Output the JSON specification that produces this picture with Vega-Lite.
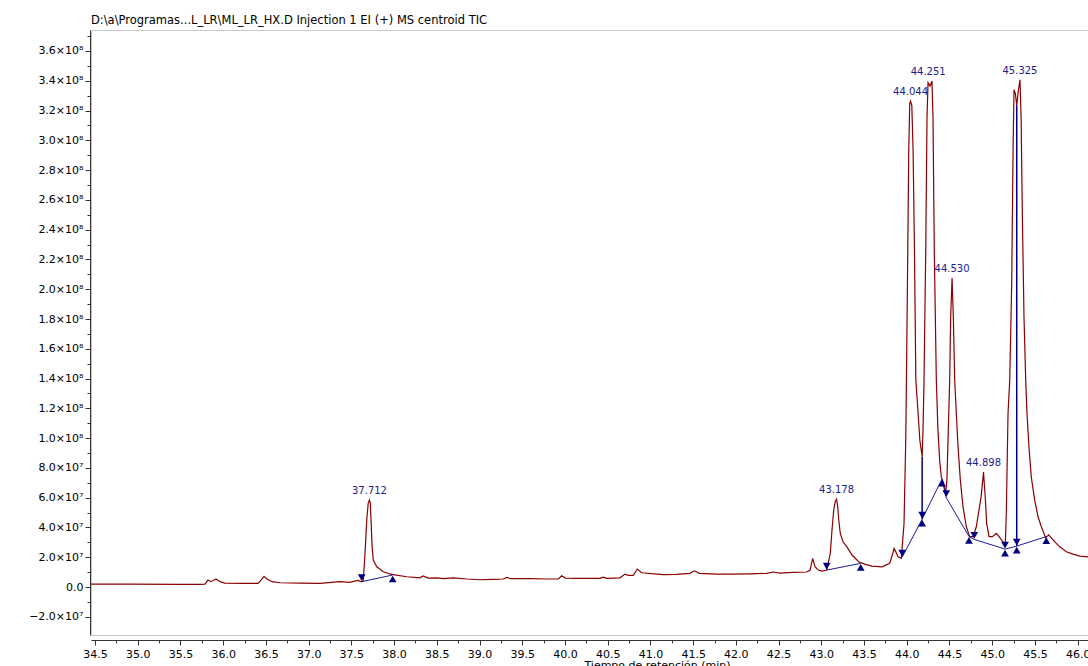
{
  "$schema": "https://vega.github.io/schema/vega-lite/v6.json",
  "width": 997,
  "height": 605,
  "autosize": {"type": "none"},
  "padding": {"left": 91, "top": 30, "right": 0, "bottom": 31},
  "background": "white",
  "title": {
    "text": "D:\\a\\Programas...L_LR\\ML_LR_HX.D Injection 1 EI (+) MS centroid TIC",
    "anchor": "start",
    "frame": "group",
    "font": "DejaVu Sans",
    "fontSize": 11.5,
    "fontWeight": "normal",
    "color": "#000000",
    "offset": 4
  },
  "config": {
    "view": {"stroke": "#c8c8c8", "strokeWidth": 1},
    "axis": {
      "labelFont": "DejaVu Sans",
      "labelFontSize": 11,
      "labelColor": "#000000",
      "titleFont": "DejaVu Sans",
      "titleFontSize": 11,
      "titleFontWeight": "normal",
      "titleColor": "#000000",
      "domainColor": "#333333",
      "tickColor": "#333333",
      "grid": false,
      "labelOverlap": false,
      "labelFlush": false
    }
  },
  "datasets": {
    "trace": [
      {"t": 34.453, "v": 2.0e6}, {"t": 34.91, "v": 1.9e6}, {"t": 35.495, "v": 1.8e6}, {"t": 35.73, "v": 1.8e6},
      {"t": 35.787, "v": 2.0e6}, {"t": 35.822, "v": 4.7e6}, {"t": 35.857, "v": 3.6e6}, {"t": 35.916, "v": 5.4e6},
      {"t": 35.963, "v": 3.6e6}, {"t": 36.02, "v": 2.7e6}, {"t": 36.255, "v": 2.5e6}, {"t": 36.408, "v": 2.5e6},
      {"t": 36.443, "v": 4.7e6}, {"t": 36.478, "v": 7.2e6}, {"t": 36.513, "v": 5.4e6}, {"t": 36.571, "v": 3.6e6},
      {"t": 36.665, "v": 2.9e6}, {"t": 36.9, "v": 2.7e6}, {"t": 37.133, "v": 2.5e6}, {"t": 37.367, "v": 3.6e6},
      {"t": 37.484, "v": 3.2e6}, {"t": 37.55, "v": 4.2e6}, {"t": 37.578, "v": 4.5e6}, {"t": 37.621, "v": 3.6e6},
      {"t": 37.64, "v": 4.7e6}, {"t": 37.66, "v": 22.6e6}, {"t": 37.68, "v": 45.0e6}, {"t": 37.697, "v": 56.2e6},
      {"t": 37.712, "v": 58.5e6}, {"t": 37.722, "v": 56.2e6}, {"t": 37.732, "v": 42.7e6}, {"t": 37.743, "v": 27.0e6},
      {"t": 37.757, "v": 18.1e6}, {"t": 37.797, "v": 13.6e6}, {"t": 37.874, "v": 10.3e6}, {"t": 37.95, "v": 8.8e6},
      {"t": 37.991, "v": 8.3e6}, {"t": 38.148, "v": 6.9e6}, {"t": 38.303, "v": 6.2e6}, {"t": 38.34, "v": 7.4e6},
      {"t": 38.4, "v": 6.0e6}, {"t": 38.499, "v": 6.2e6}, {"t": 38.576, "v": 5.6e6}, {"t": 38.693, "v": 6.2e6},
      {"t": 38.85, "v": 5.4e6}, {"t": 39.006, "v": 4.9e6}, {"t": 39.161, "v": 5.2e6}, {"t": 39.278, "v": 5.4e6},
      {"t": 39.318, "v": 6.5e6}, {"t": 39.365, "v": 5.6e6}, {"t": 39.591, "v": 5.6e6}, {"t": 39.786, "v": 5.4e6},
      {"t": 39.922, "v": 5.4e6}, {"t": 39.962, "v": 7.6e6}, {"t": 40.004, "v": 6.0e6}, {"t": 40.176, "v": 5.8e6},
      {"t": 40.331, "v": 5.8e6}, {"t": 40.41, "v": 5.8e6}, {"t": 40.449, "v": 6.7e6}, {"t": 40.488, "v": 5.8e6},
      {"t": 40.644, "v": 6.2e6}, {"t": 40.702, "v": 8.7e6}, {"t": 40.741, "v": 7.9e6}, {"t": 40.8, "v": 7.9e6},
      {"t": 40.846, "v": 12.1e6}, {"t": 40.898, "v": 9.6e6}, {"t": 41.112, "v": 8.5e6}, {"t": 41.151, "v": 8.3e6},
      {"t": 41.308, "v": 8.5e6}, {"t": 41.463, "v": 9.2e6}, {"t": 41.513, "v": 10.9e6}, {"t": 41.572, "v": 9.2e6},
      {"t": 41.776, "v": 8.7e6}, {"t": 41.97, "v": 8.7e6}, {"t": 42.166, "v": 8.9e6}, {"t": 42.361, "v": 9.2e6},
      {"t": 42.438, "v": 10.1e6}, {"t": 42.516, "v": 9.4e6}, {"t": 42.672, "v": 9.9e6}, {"t": 42.829, "v": 10.1e6},
      {"t": 42.868, "v": 11.4e6}, {"t": 42.899, "v": 19.3e6}, {"t": 42.926, "v": 13.6e6}, {"t": 42.965, "v": 11.4e6},
      {"t": 43.01, "v": 10.7e6}, {"t": 43.063, "v": 11.4e6}, {"t": 43.105, "v": 22.6e6}, {"t": 43.125, "v": 38.3e6},
      {"t": 43.145, "v": 51.7e6}, {"t": 43.164, "v": 57.7e6}, {"t": 43.178, "v": 59.0e6}, {"t": 43.192, "v": 53.9e6},
      {"t": 43.204, "v": 45.0e6}, {"t": 43.222, "v": 36.0e6}, {"t": 43.254, "v": 30.4e6}, {"t": 43.3, "v": 27.0e6},
      {"t": 43.359, "v": 21.5e6}, {"t": 43.437, "v": 17.0e6}, {"t": 43.515, "v": 15.2e6}, {"t": 43.593, "v": 14.1e6},
      {"t": 43.71, "v": 13.6e6}, {"t": 43.8, "v": 15.9e6}, {"t": 43.831, "v": 21.5e6}, {"t": 43.851, "v": 26.0e6},
      {"t": 43.871, "v": 23.7e6}, {"t": 43.898, "v": 20.3e6}, {"t": 43.936, "v": 19.3e6}, {"t": 43.968, "v": 42.7e6},
      {"t": 43.988, "v": 98.6e6}, {"t": 43.996, "v": 139.0e6}, {"t": 44.008, "v": 203.8e6}, {"t": 44.023, "v": 293.3e6},
      {"t": 44.035, "v": 324.6e6}, {"t": 44.044, "v": 326.4e6}, {"t": 44.059, "v": 323.5e6}, {"t": 44.074, "v": 293.3e6},
      {"t": 44.09, "v": 226.2e6}, {"t": 44.106, "v": 139.0e6}, {"t": 44.133, "v": 116.6e6}, {"t": 44.153, "v": 98.6e6},
      {"t": 44.18, "v": 87.5e6}, {"t": 44.19, "v": 105.4e6}, {"t": 44.202, "v": 138.9e6}, {"t": 44.222, "v": 226.2e6},
      {"t": 44.237, "v": 315.6e6}, {"t": 44.249, "v": 338.7e6}, {"t": 44.272, "v": 336.4e6}, {"t": 44.295, "v": 339.8e6},
      {"t": 44.307, "v": 315.6e6}, {"t": 44.322, "v": 226.2e6}, {"t": 44.346, "v": 138.9e6}, {"t": 44.365, "v": 105.4e6},
      {"t": 44.385, "v": 85.2e6}, {"t": 44.404, "v": 74.0e6}, {"t": 44.432, "v": 69.6e6}, {"t": 44.455, "v": 62.9e6},
      {"t": 44.47, "v": 71.8e6}, {"t": 44.486, "v": 105.4e6}, {"t": 44.502, "v": 138.9e6}, {"t": 44.514, "v": 181.4e6},
      {"t": 44.53, "v": 207.6e6}, {"t": 44.545, "v": 181.4e6}, {"t": 44.561, "v": 138.9e6}, {"t": 44.58, "v": 116.6e6},
      {"t": 44.6, "v": 94.2e6}, {"t": 44.627, "v": 71.8e6}, {"t": 44.658, "v": 53.9e6}, {"t": 44.697, "v": 40.5e6},
      {"t": 44.736, "v": 33.8e6}, {"t": 44.775, "v": 33.8e6}, {"t": 44.814, "v": 40.5e6}, {"t": 44.87, "v": 60.6e6},
      {"t": 44.898, "v": 77.2e6}, {"t": 44.918, "v": 60.6e6}, {"t": 44.935, "v": 42.7e6}, {"t": 44.963, "v": 33.8e6},
      {"t": 45.002, "v": 33.8e6}, {"t": 45.049, "v": 36.0e6}, {"t": 45.08, "v": 33.8e6}, {"t": 45.126, "v": 30.4e6},
      {"t": 45.153, "v": 28.2e6}, {"t": 45.165, "v": 49.5e6}, {"t": 45.185, "v": 116.6e6}, {"t": 45.205, "v": 138.9e6},
      {"t": 45.228, "v": 203.8e6}, {"t": 45.244, "v": 293.3e6}, {"t": 45.255, "v": 334.0e6}, {"t": 45.271, "v": 331.3e6},
      {"t": 45.287, "v": 323.5e6}, {"t": 45.306, "v": 333.5e6}, {"t": 45.325, "v": 340.7e6}, {"t": 45.338, "v": 315.6e6},
      {"t": 45.353, "v": 248.5e6}, {"t": 45.372, "v": 181.4e6}, {"t": 45.392, "v": 138.9e6}, {"t": 45.407, "v": 116.6e6},
      {"t": 45.43, "v": 94.2e6}, {"t": 45.457, "v": 74.0e6}, {"t": 45.497, "v": 58.4e6}, {"t": 45.536, "v": 47.2e6},
      {"t": 45.575, "v": 40.5e6}, {"t": 45.626, "v": 33.0e6}, {"t": 45.66, "v": 35.0e6}, {"t": 45.7, "v": 32.5e6},
      {"t": 45.73, "v": 30.5e6}, {"t": 45.79, "v": 27.0e6}, {"t": 45.868, "v": 23.7e6}, {"t": 45.946, "v": 22.1e6},
      {"t": 46.024, "v": 20.8e6}, {"t": 46.121, "v": 20.2e6}
    ],
    "base": [
      {"seg": "A", "t": 37.621, "v": 3.6e6}, {"seg": "A", "t": 37.984, "v": 8.1e6},
      {"seg": "B", "t": 43.063, "v": 11.4e6}, {"seg": "B", "t": 43.461, "v": 15.9e6},
      {"seg": "C", "t": 43.947, "v": 20.1e6}, {"seg": "C", "t": 44.18, "v": 45.6e6},
      {"seg": "C", "t": 44.412, "v": 72.5e6}, {"seg": "C", "t": 44.462, "v": 60.0e6},
      {"seg": "C", "t": 44.728, "v": 34.0e6}, {"seg": "C", "t": 44.79, "v": 32.0e6},
      {"seg": "C", "t": 45.15, "v": 25.5e6}, {"seg": "C", "t": 45.287, "v": 27.5e6},
      {"seg": "C", "t": 45.633, "v": 33.9e6}
    ],
    "drops": [
      {"t": 44.18, "v": 87.5e6, "v2": 45.6e6},
      {"t": 45.287, "v": 323.5e6, "v2": 27.5e6}
    ],
    "down": [
      {"t": 37.621, "v": 3.6e6}, {"t": 43.063, "v": 11.4e6}, {"t": 43.947, "v": 20.1e6}, {"t": 44.18, "v": 45.6e6},
      {"t": 44.462, "v": 60.0e6}, {"t": 44.79, "v": 32.0e6}, {"t": 45.15, "v": 25.5e6}, {"t": 45.287, "v": 27.5e6}
    ],
    "up": [
      {"t": 37.984, "v": 8.1e6}, {"t": 43.461, "v": 15.9e6}, {"t": 44.18, "v": 45.6e6}, {"t": 44.412, "v": 72.5e6},
      {"t": 44.728, "v": 34.0e6}, {"t": 45.15, "v": 25.5e6}, {"t": 45.287, "v": 27.5e6}, {"t": 45.633, "v": 33.9e6}
    ],
    "labels": [
      {"t": 37.712, "v": 58.5e6, "label": "37.712"},
      {"t": 43.178, "v": 59.0e6, "label": "43.178"},
      {"t": 44.044, "v": 326.4e6, "label": "44.044"},
      {"t": 44.251, "v": 339.8e6, "label": "44.251"},
      {"t": 44.53, "v": 207.6e6, "label": "44.530"},
      {"t": 44.898, "v": 77.2e6, "label": "44.898"},
      {"t": 45.325, "v": 340.7e6, "label": "45.325"}
    ]
  },
  "layer": [
    {
      "data": {"name": "trace"},
      "mark": {"type": "line", "color": "#8b0000", "strokeWidth": 1.2, "clip": true},
      "encoding": {
        "x": {
          "field": "t", "type": "quantitative",
          "scale": {"domain": [34.453, 46.121], "nice": false, "zero": false},
          "axis": {
            "values": [34.5, 34.75, 35.0, 35.25, 35.5, 35.75, 36.0, 36.25, 36.5, 36.75, 37.0, 37.25, 37.5, 37.75, 38.0, 38.25, 38.5, 38.75, 39.0, 39.25, 39.5, 39.75, 40.0, 40.25, 40.5, 40.75, 41.0, 41.25, 41.5, 41.75, 42.0, 42.25, 42.5, 42.75, 43.0, 43.25, 43.5, 43.75, 44.0, 44.25, 44.5, 44.75, 45.0, 45.25, 45.5, 45.75, 46.0],
            "tickCount": 200,
            "labelExpr": "datum.value*2 == round(datum.value*2) ? format(datum.value, '.1f') : ''",
            "tickSize": {"condition": {"test": "datum.value*2 != round(datum.value*2)", "value": 3}, "value": 5},
            "offset": 5,
            "labelPadding": 3,
            "labelOverlap": false,
            "title": "Tiempo de retención (min)",
            "titleX": 566,
            "titlePadding": 0
          }
        },
        "y": {
          "field": "v", "type": "quantitative",
          "scale": {"domain": [-32.2e6, 374.1e6], "nice": false, "zero": false},
          "axis": {
            "values": [-20000000, -10000000, 0, 10000000, 20000000, 30000000, 40000000, 50000000, 60000000, 70000000, 80000000, 90000000, 100000000, 110000000, 120000000, 130000000, 140000000, 150000000, 160000000, 170000000, 180000000, 190000000, 200000000, 210000000, 220000000, 230000000, 240000000, 250000000, 260000000, 270000000, 280000000, 290000000, 300000000, 310000000, 320000000, 330000000, 340000000, 350000000, 360000000, 370000000],
            "tickCount": 200,
            "labelExpr": "round(datum.value/1e7) % 2 != 0 ? '' : (datum.value == 0 ? '0.0' : (abs(datum.value) >= 1e8 ? format(datum.value/1e8, '.1f') + '×10⁸' : format(datum.value/1e7, '.1f') + '×10⁷'))",
            "tickSize": {"condition": {"test": "round(datum.value/1e7) % 2 != 0", "value": 3}, "value": 5},
            "offset": 1,
            "labelPadding": 2,
            "labelOverlap": false,
            "title": null
          }
        }
      }
    },
    {
      "data": {"name": "base"},
      "mark": {"type": "line", "color": "#1a1a9a", "strokeWidth": 1},
      "encoding": {
        "x": {"field": "t", "type": "quantitative"},
        "y": {"field": "v", "type": "quantitative"},
        "detail": {"field": "seg", "type": "nominal"}
      }
    },
    {
      "data": {"name": "drops"},
      "mark": {"type": "rule", "color": "#000080", "strokeWidth": 1.5},
      "encoding": {
        "x": {"field": "t", "type": "quantitative"},
        "y": {"field": "v", "type": "quantitative"},
        "y2": {"field": "v2"}
      }
    },
    {
      "data": {"name": "down"},
      "mark": {"type": "point", "shape": "triangle-down", "filled": true, "size": 60, "color": "#000080", "opacity": 1, "yOffset": -4},
      "encoding": {
        "x": {"field": "t", "type": "quantitative"},
        "y": {"field": "v", "type": "quantitative"}
      }
    },
    {
      "data": {"name": "up"},
      "mark": {"type": "point", "shape": "triangle-up", "filled": true, "size": 60, "color": "#000080", "opacity": 1, "yOffset": 4},
      "encoding": {
        "x": {"field": "t", "type": "quantitative"},
        "y": {"field": "v", "type": "quantitative"}
      }
    },
    {
      "data": {"name": "labels"},
      "mark": {"type": "text", "font": "DejaVu Sans", "fontSize": 10, "color": "#1c1c8c", "baseline": "bottom", "align": "center", "dy": -4},
      "encoding": {
        "x": {"field": "t", "type": "quantitative"},
        "y": {"field": "v", "type": "quantitative"},
        "text": {"field": "label", "type": "nominal"}
      }
    }
  ]
}
